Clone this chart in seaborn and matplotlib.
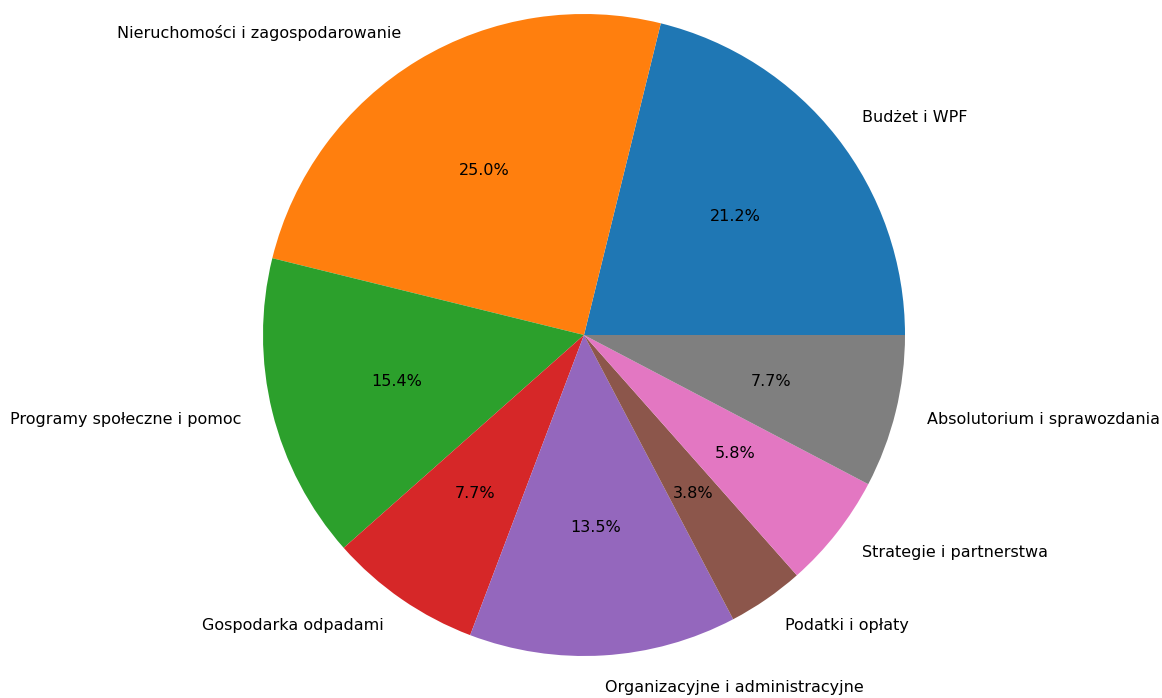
import matplotlib
matplotlib.use("Agg")
import matplotlib.pyplot as plt
import seaborn as sns

# Categories and counts (percentages: n = 52)
categories = [
    "Budżet i WPF",
    "Nieruchomości i zagospodarowanie",
    "Programy społeczne i pomoc",
    "Gospodarka odpadami",
    "Organizacyjne i administracyjne",
    "Podatki i opłaty",
    "Strategie i partnerstwa",
    "Absolutorium i sprawozdania",
]
counts = [11, 13, 8, 4, 7, 2, 3, 4]

colors = sns.color_palette("tab10", len(categories))

fig = plt.figure(figsize=(11.62, 6.98), dpi=100)
ax = fig.add_axes([0, 0, 1, 1])
ax.pie(counts, labels=categories, colors=colors, autopct="%1.1f%%",
       textprops={"fontsize": 11.5})

# place the pie: centre at (584, 335) px, radius ~321 px
r = 321.0
ax.set_xlim(-584 / r, (1162 - 584) / r)
ax.set_ylim(-(698 - 335) / r, 335 / r)
ax.set_aspect("auto")
ax.axis("off")

plt.savefig("out.png", dpi=100)
